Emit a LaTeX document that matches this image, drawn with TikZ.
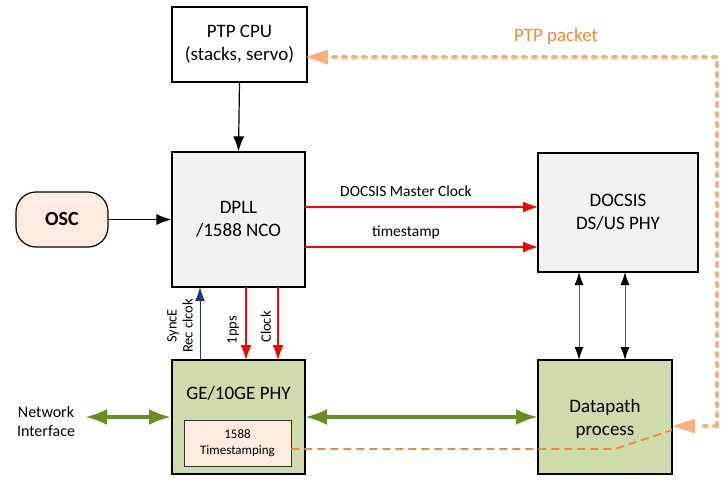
\documentclass[tikz,border=0pt]{standalone}
\usepackage{fontspec}
\setmainfont{Carlito}
\usetikzlibrary{arrows.meta}
\definecolor{boxgray}{HTML}{F2F2F2}
\definecolor{phygreen}{HTML}{CDDCAA}
\definecolor{peach}{HTML}{FCEBDE}
\definecolor{ldark}{HTML}{6B8E23}
\definecolor{orng}{HTML}{F08A33}
\definecolor{lorng}{HTML}{F6B07C}
\definecolor{navy}{HTML}{1F3A78}
\begin{document}
\begin{tikzpicture}[x=1pt,y=-1pt,
  blk/.style={draw=black, line width=1.2pt, align=center, font=\fontsize{19}{23}\selectfont, inner sep=0pt},
  lbl/.style={font=\fontsize{15.5}{18}\selectfont},
  vlbl/.style={font=\fontsize{14.5}{16}\selectfont, rotate=90},
  blkarrow/.style={-{Latex[length=15pt,width=11pt]}, line width=1.2pt},
  redarrow/.style={-{Latex[length=15pt,width=11pt]}, red, line width=1.3pt},
  grnarrow/.style={{Latex[length=22pt,width=16pt]}-{Latex[length=22pt,width=16pt]}, ldark, line width=3.5pt},
  thinbi/.style={{Latex[length=13pt,width=9pt,color=black]}-{Latex[length=13pt,width=9pt,color=black]}, draw=gray!70!black, line width=1pt}
]
\useasboundingbox (0,0) rectangle (723,480);
% boxes
\node[blk, fill=white, minimum width=135pt, minimum height=75pt] (cpu) at (239.5,44.5) {PTP CPU\\(stacks, servo)};
\node[blk, fill=boxgray, minimum width=133pt, minimum height=135pt] (dpll) at (238.5,219.5) {DPLL\\/1588 NCO};
\node[blk, fill=boxgray, minimum width=160pt, minimum height=119pt] (docsis) at (618,212.5) {DOCSIS\\DS/US PHY};
\node[blk, fill=phygreen, minimum width=133pt, minimum height=114pt] (ge) at (238.5,417) {};
\node[font=\fontsize{19}{23}\selectfont] (getxt) at (238.5,393) {GE/10GE PHY};
\node[draw=black!80, line width=0.8pt, fill=peach, minimum width=107pt, minimum height=46pt, align=center, inner sep=0pt, font=\fontsize{13}{16.5}\selectfont] (ts) at (237.5,443) {1588\\Timestamping};
\node[blk, fill=phygreen, minimum width=134pt, minimum height=114pt] (dp) at (605,417) {};
\node[font=\fontsize{19}{23}\selectfont, align=center] (dptxt) at (605,419) {Datapath\\process};
\node[draw=black, line width=1.2pt, fill=peach, rounded corners=20pt, minimum width=92pt, minimum height=55pt, font=\bfseries\fontsize{20}{24}\selectfont, inner sep=0pt] (osc) at (62,219.5) {OSC};
\node[font=\fontsize{16}{19}\selectfont, align=center] (net) at (46,421) {Network\\Interface};
% arrows
\draw[blkarrow] (cpu.south) -- (dpll.north);
\draw[blkarrow] (osc.east) -- (dpll.west |- osc.east);
\draw[redarrow] (305,207) -- (538,207);
\node[lbl] (mc) at (406,191) {DOCSIS Master Clock};
\draw[redarrow] (305,247) -- (538,247);
\node[lbl] (tsl) at (406,232) {timestamp};
\coordinate (se1) at (200,360); \coordinate (se2) at (200,287);
\draw[-{Latex[length=14pt,width=10pt]}, navy, line width=1pt] (se1) -- (se2);
\node[vlbl, align=center] (selbl) at (180,326) {SyncE\\Rec clcok};
\coordinate (p1) at (246,287); \coordinate (p2) at (246,360);
\draw[redarrow] (p1) -- (p2);
\node[vlbl] (ppsl) at (233,330) {1pps};
\coordinate (c1) at (278,287); \coordinate (c2) at (278,360);
\draw[redarrow] (c1) -- (c2);
\node[vlbl] (clkl) at (266,327) {Clock};
\coordinate (d1a) at (579,272); \coordinate (d1b) at (579,360);
\coordinate (d2a) at (625,272); \coordinate (d2b) at (625,360);
\draw[thinbi] (d1a) -- (d1b);
\draw[thinbi] (d2a) -- (d2b);
\draw[grnarrow] (85,417) -- (171,417);
\draw[grnarrow] (305,417) -- (538,417);
% orange dashed
\coordinate (ob) at (615,449); \coordinate (oc) at (672,430);
\draw[orng, line width=1.8pt, dash pattern=on 8pt off 5pt] (ts.east |- 0,449) -- (ob) -- (oc);
% PTP packet dotted path
\coordinate (pa) at (717,426); \coordinate (pb) at (717,57);
\draw[lorng, line width=4pt, line cap=round, dash pattern=on 3pt off 7pt] (pa) -- (pb) -- (332,57);
\draw[lorng, line width=4pt, line cap=round, dash pattern=on 3pt off 7pt] (pa) -- (698,426);
\fill[lorng] (673,426) -- (695,418.5) -- (695,433.5) -- cycle;
\fill[lorng] (306,57) -- (328,49.5) -- (328,64.5) -- cycle;
\node[text=orng, font=\fontsize{19}{23}\selectfont] (ptpl) at (556,36) {PTP packet};
\end{tikzpicture}
\end{document}
